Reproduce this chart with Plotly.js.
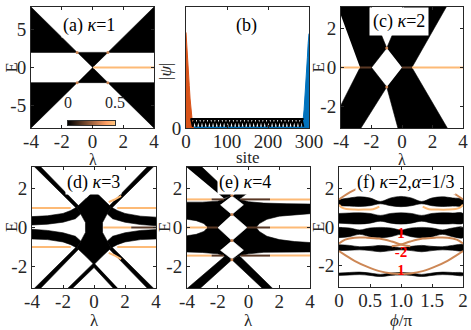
<!DOCTYPE html>
<html><head><meta charset="utf-8">
<script src="https://cdn.plot.ly/plotly-3.0.1.min.js"></script>
<style>html,body{margin:0;padding:0;background:#fff}#g{width:471px;height:330px}</style>
</head><body><div id="g"></div>
<script>
// ---------- (a) kappa=1 ----------
const aLam = [-4.3,-1,-4.3,null,4.3,1,4.3,null,-4.3,-1,-4.3,null,4.3,1,4.3,null,-1,1,0,null,-1,1,0];
const aE   = [2,2,8.6,null,2,2,8.6,null,-2,-2,-8.6,null,-2,-2,-8.6,null,2,2,0,null,-2,-2,0];
const aEdgeLam = [0.05,4.2], aEdgeE = [0,0];
const aDotLam = [-1,1,-1,1], aDotE = [2,2,-2,-2];
const cbVals = [0,0.5];
// ---------- (b) wavefunctions ----------
const siteRed = [0,2,4,6,8,10,12,14,16,18];
const psiRed  = [0.79,0.70,0.58,0.47,0.35,0.24,0.15,0.08,0.03,0];
const siteBlue = [282,284,286,288,290,292,294,296,298,300];
const psiBlue  = [0,0.03,0.08,0.15,0.24,0.35,0.47,0.58,0.70,0.78];
const siteBase = [0,282], psiBase = [0.004,0.004];
const siteBlack = [12,16.5,21,25.5,30,34.5,39,43.5,48,52.5,57,61.5,66,70.5,75,79.5,84,88.5,93,97.5,102,106.5,111,115.5,120,124.5,129,133.5,138,142.5,147,151.5,156,160.5,165,169.5,174,178.5,183,187.5,192,196.5,201,205.5,210,214.5,219,223.5,228,232.5,237,241.5,246,250.5,255,259.5,264,268.5,273,277.5,282,286.5];
const psiBlack  = [0.08,0.01,0.08,0.01,0.08,0.01,0.08,0.01,0.08,0.01,0.08,0.01,0.08,0.01,0.08,0.01,0.08,0.01,0.08,0.01,0.08,0.01,0.08,0.01,0.08,0.01,0.08,0.01,0.08,0.01,0.08,0.01,0.08,0.01,0.08,0.01,0.08,0.01,0.08,0.01,0.08,0.01,0.08,0.01,0.08,0.01,0.08,0.01,0.08,0.01,0.08,0.01,0.08,0.01,0.08,0.01,0.08,0.01,0.08,0.01,0.08,0.01];
const siteTop = [12,287], psiTop = [0.075,0.075];
// ---------- (c) kappa=2 ----------
const cLam = [-2.75,-2,-1,-2.2,-4.3,null, 0,0.65,3.05,0.25,-1,null, -2.75,-4.3,-4.3,-2.85,-1,-2,null, 0,0.65,3.12,-0.2,-1];
const cE   = [0,0,1,3.3,3.3,null, 0,0,3.3,3.3,1,null, 0,-2.38,-3.3,-3.3,-1,0,null, 0,0,-3.3,-3.3,-1];
const cLightLam = [-4.2,-2.75,null,0.65,4.2], cLightE = [0,0,null,0,0];
const cDarkLam = [-2.75,-2,null,0,0.65], cDarkE = [0,0,null,0,0];
const cDotLam = [-1,-1], cDotE = [1,-1];
// ---------- (d) kappa=3 ----------
const dCenterLam = [0,0.5,1.1,0.85,0.55,0.55,0.85,1.1,0.5,0,-0.5,-1.1,-0.85,-0.55,-0.55,-0.85,-1.1,-0.5];
const dCenterE   = [1.9,1.5,1.05,0.7,0.25,-0.25,-0.7,-1.05,-1.5,-1.9,-1.5,-1.05,-0.7,-0.25,0.25,0.7,1.05,1.5];
const dBandLam = [-4.2,-3,-2,-1.5,-1.1,-0.85,-1.2,-2,-3,-4.2,null, 4.2,3,2,1.5,1.1,0.85,1.2,2,3,4.2,null, -4.2,-3,-2,-1.5,-1.1,-0.85,-1.2,-2,-3,-4.2,null, 4.2,3,2,1.5,1.1,0.85,1.2,2,3,4.2];
const dBandE   = [0.55,0.6,0.72,0.87,1.05,0.7,0.45,0.27,0.17,0.12,null, 0.52,0.58,0.72,0.87,1.05,0.7,0.45,0.27,0.15,0.08,null, -0.58,-0.62,-0.74,-0.88,-1.05,-0.7,-0.45,-0.27,-0.15,-0.08,null, -0.58,-0.62,-0.74,-0.88,-1.05,-0.7,-0.45,-0.27,-0.15,-0.1];
const dLineLam = [-1.15,-3.95,-3.55,-1.0,null, 1.15,3.95,3.55,1.0,null, -1.15,-3.95,-3.55,-1.0,null, 1.15,3.95,3.55,1.0,null, 0,-1.8,-1.5,0,1.35,1.65];
const dLineE   = [1.0,3.2,3.2,1.12,null, 1.0,3.2,3.2,1.12,null, -1.0,-3.2,-3.2,-1.12,null, -1.0,-3.2,-3.2,-1.12,null, -1.8,-3.2,-3.2,-2.05,-3.2,-3.2];
const dLightLam = [-4.2,-1.5,null,1.5,4.2,null,-4.2,-1.5,null,1.5,4.2,null,0.6,2.4,null,0.95,1.3,1.75,null,0.95,1.3,1.75];
const dLightE   = [1,1,null,1,1,null,-1,-1,null,-1,-1,null,0,0,null,1.3,1.42,1.62,null,-1.3,-1.42,-1.62];
const dDarkLam = [2.4,4.2], dDarkE = [0,0];
// ---------- (e) kappa=4 ----------
const eLineLam = [-4.35,-3.3,-1.08,-1.6,null, -1.08,-0.3,0.45,0.0,-0.6,null, -1.08,1.15,1.8,-0.6,null, -1.08,-3.4,-4.25,-1.5];
const eLineE   = [3.3,3.3,1.65,1.5,null, 1.6,2.0,2.18,1.8,1.45,null, -1.65,-3.3,-3.3,-1.45,null, -1.65,-3.3,-3.3,-1.45];
const eBandLam = [-4.2,-3,-2,-1.5,-1.08,-0.6,0,1,2.5,4.2,4.2,3,2,1.2,0.7,0.5,-2.65,-2.9,-3.4,-4.2,null, -4.2,-3.4,-2.9,-2.65,0.5,0.7,1.2,2,3,4.2,4.2,2.5,1,0,-0.6,-1.08,-1.5,-2,-3,-4.2];
const eBandE   = [1.3,1.3,1.35,1.48,1.65,1.45,1.32,1.25,1.22,1.2,0.72,0.66,0.58,0.42,0.2,0,0,0.2,0.35,0.45,null, -0.45,-0.35,-0.2,0,0,-0.2,-0.45,-0.62,-0.72,-0.78,-1.25,-1.25,-1.27,-1.35,-1.45,-1.65,-1.48,-1.35,-1.28,-1.25];
const eHoleLam = [-1.08,-0.33,-1.08,-1.83,null, -1.08,-0.1,-1.08,-2.0,null, -1.08,-0.33,-1.08,-1.83];
const eHoleE   = [1.62,1.16,0.67,1.16,null, 0.67,0,-0.67,0,null, -0.67,-1.16,-1.62,-1.16];
const eLightLam = [-4.2,-2.4,null,1.4,4.2,null,-4.2,-2.4,null,1.4,4.2,null,-4.2,-2.7,null,1.4,4.2];
const eLightE   = [1.44,1.44,null,1.44,1.44,null,-1.44,-1.44,null,-1.44,-1.44,null,0,0,null,0,0];
const eDarkLam = [-2.4,-1.6,null,-0.5,1.4,null,-2.4,-1.6,null,-0.5,1.4,null,-2.7,-2.0,null,-0.1,1.4];
const eDarkE   = [1.44,1.44,null,1.44,1.44,null,-1.44,-1.44,null,-1.44,-1.44,null,0,0,null,0,0];
const eDotLam = [-1.08,-1.08,-1.08,-1.08], eDotE = [1.65,0.67,-0.67,-1.65];
// ---------- (f) kappa=2, alpha=1/3 ----------
const phi = [0,0.1667,0.3333,0.5,0.6667,0.8333,1,1.1667,1.3333,1.5,1.6667,1.8333,2];
const b1Top = [1.42,1.50,1.56,1.50,1.32,1.50,1.58,1.50,1.32,1.50,1.56,1.50,1.42];
const b1Bot = [1.10,1.08,1.06,1.10,1.20,1.10,1.05,1.10,1.20,1.10,1.06,1.08,1.10];
const b2Top = [0.70,0.72,0.73,0.70,0.60,0.70,0.73,0.70,0.60,0.70,0.73,0.72,0.70];
const b2Bot = [0.20,0.17,0.15,0.20,0.30,0.20,0.15,0.20,0.30,0.20,0.15,0.17,0.20];
const b3Top = [-0.02,-0.05,-0.15,-0.05,-0.02,-0.05,-0.15,-0.05,-0.02,-0.05,-0.15,-0.05,-0.02];
const b3Bot = [-0.55,-0.50,-0.38,-0.50,-0.55,-0.50,-0.38,-0.50,-0.55,-0.50,-0.38,-0.50,-0.55];
const b4Top = [-0.92,-0.95,-1.02,-1.00,-0.95,-1.00,-1.08,-1.00,-0.95,-1.00,-1.02,-0.95,-0.92];
const b4Bot = [-1.22,-1.20,-1.18,-1.22,-1.28,-1.22,-1.18,-1.22,-1.28,-1.22,-1.18,-1.20,-1.22];
const b5Top = [-2.38,-2.35,-2.33,-2.38,-2.45,-2.38,-2.35,-2.38,-2.45,-2.38,-2.33,-2.35,-2.38];
const b5Bot = [-2.50,-2.48,-2.46,-2.50,-2.56,-2.50,-2.48,-2.50,-2.56,-2.50,-2.46,-2.48,-2.50];
const o1Phi = [0,0.08,0.18,0.3,0.42], o1E = [1.42,1.6,1.8,2.0,2.18];
const o2Phi = [0,0.05,0.12,0.25,0.4,0.55,0.65], o2E = [1.15,1.0,0.93,0.9,0.9,0.92,1.05];
const o3Phi = [0,0.1,0.25,0.45,0.65,0.85,1.0,1.15], o3E = [-0.85,-0.65,-0.55,-0.55,-0.6,-0.75,-0.9,-1.0];
const o4Phi = [0,0.1,0.25,0.45,0.65,0.85,1.0], o4E = [-1.25,-1.45,-1.75,-2.05,-2.28,-2.4,-2.43];
const chernLabels = ['1','-2','1'], chernE = [-0.4,-1.37,-2.3];

const W = 471, H = 330;
const FONT = '"Liberation Serif", "Times New Roman", "DejaVu Serif", serif';
const INK = '#262626';
const LIGHT = 'rgb(253,186,118)', DARK = 'rgb(90,56,36)', TAN = 'rgb(205,135,85)';
const BL = 'black';
function px(a,b){return [a/W,b/W];}
function py(t,b){return [1-b/H,1-t/H];}
function poly(n,x,y,color,shape){return {type:'scatter',mode:'lines',x:x,y:y,xaxis:'x'+n,yaxis:'y'+n,fill:'toself',fillcolor:color,line:{color:color,width:0.6,shape:shape||'linear'},hoverinfo:'skip'};}
function line(n,x,y,color,w,shape){return {type:'scatter',mode:'lines',x:x,y:y,xaxis:'x'+n,yaxis:'y'+n,line:{color:color,width:w,shape:shape||'linear'},hoverinfo:'skip'};}
function dots(n,x,y,color,s){return {type:'scatter',mode:'markers',x:x,y:y,xaxis:'x'+n,yaxis:'y'+n,marker:{color:color,size:s},hoverinfo:'skip'};}
function mirror(arr,c){return arr.map(v=>c-v);}
function band(top,bot){return {x:phi.concat(phi.slice().reverse()),y:top.concat(bot.slice().reverse())};}

const traces = [];
// (a)
traces.push(poly(1,aLam,aE,BL));
traces.push(line(1,aEdgeLam,aEdgeE,LIGHT,2));
traces.push(dots(1,aDotLam,aDotE,TAN,3));
traces.push({type:'heatmap',z:[cbVals],x:cbVals,y:[0],xaxis:'x7',yaxis:'y7',zsmooth:'best',zmin:0,zmax:0.5,showscale:false,hoverinfo:'skip',
  colorscale:[[0,'rgb(0,0,0)'],[0.8,'rgb(255,159,101)'],[1,'rgb(255,199,127)']]});
// (b)
traces.push(line(2,siteBase,psiBase,'#0072BD',2));
traces.push({type:'scatter',mode:'lines',x:siteRed,y:psiRed,xaxis:'x2',yaxis:'y2',fill:'tozeroy',fillcolor:'#D95319',line:{color:'#D95319',width:1},hoverinfo:'skip'});
traces.push({type:'scatter',mode:'lines',x:siteBlue,y:psiBlue,xaxis:'x2',yaxis:'y2',fill:'tozeroy',fillcolor:'#0072BD',line:{color:'#0072BD',width:1},hoverinfo:'skip'});
traces.push(line(2,siteBlack,psiBlack,BL,1.8));
traces.push(line(2,siteTop,psiTop,BL,2));
// (c)
traces.push(poly(3,cLam,cE,BL));
traces.push(line(3,cLightLam,cLightE,LIGHT,2));
traces.push(line(3,cDarkLam,cDarkE,DARK,2));
traces.push(dots(3,cDotLam,cDotE,TAN,3));
// (d)
traces.push(poly(4,dCenterLam,dCenterE,BL));
traces.push(poly(4,dBandLam,dBandE,BL));
traces.push(poly(4,dLineLam,dLineE,BL));
traces.push(line(4,dLightLam,dLightE,LIGHT,2));
traces.push(line(4,dDarkLam,dDarkE,DARK,2));
// (e)
traces.push(poly(5,eLineLam,eLineE,BL));
traces.push(poly(5,eBandLam,eBandE,BL));
traces.push(poly(5,eHoleLam,eHoleE,'white'));
traces.push(line(5,eLightLam,eLightE,LIGHT,2));
traces.push(line(5,eDarkLam,eDarkE,DARK,2));
traces.push(dots(5,eDotLam,eDotE,TAN,3));
// (f)
[[b1Top,b1Bot],[b2Top,b2Bot],[b3Top,b3Bot],[b4Top,b4Bot],[b5Top,b5Bot]].forEach(p=>{const b=band(p[0],p[1]);traces.push(poly(6,b.x,b.y,BL,'spline'));});
traces.push(line(6,o1Phi,o1E,TAN,2,'spline'));
traces.push(line(6,mirror(o1Phi,2),o1E,TAN,2,'spline'));
traces.push(line(6,o2Phi,o2E,LIGHT,2,'spline'));
traces.push(line(6,mirror(o2Phi,2),o2E,LIGHT,2,'spline'));
traces.push(line(6,o3Phi,o3E,TAN,2,'spline'));
traces.push(line(6,mirror(o3Phi,2),o3E,TAN,2,'spline'));
traces.push(line(6,o4Phi,o4E,TAN,2,'spline'));
traces.push(line(6,mirror(o4Phi,2),o4E,TAN,2,'spline'));
traces.push({type:'scatter',mode:'text',x:[1,1,1],y:chernE,text:chernLabels,xaxis:'x6',yaxis:'y6',
  textfont:{family:FONT,size:15,color:'#ff0000',weight:'bold'},hoverinfo:'skip'});

function axis(dom,range,vals,text,anchor,extra){
  return Object.assign({domain:dom,range:range,tickvals:vals,ticktext:text,ticks:'inside',ticklen:3,tickwidth:1,tickcolor:INK,
    showline:true,linecolor:INK,linewidth:1,mirror:'allticks',showgrid:false,zeroline:false,anchor:anchor,
    tickfont:{family:FONT,size:19,color:INK}},extra||{});
}
const XS = {ticklabelstandoff:-4};
const lamVals=[-4,-2,0,2,4], lamText=['-4','-2','0','2','4'];
const eVals=[-2,0,2], eText=['-2','0','2'];
const labelAnn = [
    {text:'(a) <i>κ</i>=1',x:89,y:25.5},
    {text:'(b)',x:246,y:26},
    {text:'(c) <i>κ</i>=2',x:399,y:22,borderpad:3},
    {text:'(d) <i>κ</i>=3',x:93,y:182},
    {text:'(e) <i>κ</i>=4',x:245,y:182},
    {text:'(f) <i>κ</i>=2,<i>α</i>=1/3',x:405,y:182}
  ].map(a=>Object.assign({xref:'paper',yref:'paper',showarrow:false,xanchor:'center',yanchor:'middle',bgcolor:'white',borderpad:1,
    font:{family:FONT,size:18,color:'black'}},a,{x:a.x/W,y:1-a.y/H}));
const titleAnn = [
    {text:'λ',x:92.5,y:159.5,size:16},{text:'site',x:247.5,y:157},{text:'λ',x:402,y:159.5,size:16},
    {text:'λ',x:94,y:320},{text:'λ',x:248.5,y:320},{text:'<i>ϕ</i>/π',x:401,y:320},
    {text:'E',x:11,y:67.5,textangle:-90},{text:'|<i>ψ</i>|',x:166,y:72,textangle:-90},{text:'E',x:318,y:67.5,textangle:-90},
    {text:'E',x:11,y:227,textangle:-90},{text:'E',x:164,y:227,textangle:-90},{text:'E',x:318,y:227,textangle:-90}
  ].map(a=>Object.assign({xref:'paper',yref:'paper',showarrow:false,xanchor:'center',yanchor:'middle',borderpad:0,
    font:{family:FONT,size:a.size||17,color:INK}},a,{x:a.x/W,y:1-a.y/H,size:undefined}));
titleAnn.forEach(a=>{delete a.size;});
const layout = {
  width:W,height:H,margin:{l:0,r:0,t:0,b:0},showlegend:false,paper_bgcolor:'white',plot_bgcolor:'white',
  xaxis: axis(px(31,154),[-4,4],lamVals,lamText,'y',XS),
  yaxis: axis(py(7,128),[-8,8],[-5,0,5],['-5','0','5'],'x'),
  xaxis2:axis(px(186,309),[0,300],[0,100,200,300],['0','100','200','300'],'y2',XS),
  yaxis2:axis(py(7,128),[0,1],[0,1],['0','1'],'x2'),
  xaxis3:axis(px(341,463),[-4,4],lamVals,lamText,'y3',XS),
  yaxis3:axis(py(7,128),[-3.1,3.1],eVals,eText,'x3'),
  xaxis4:axis(px(32,156),[-4,4],lamVals,lamText,'y4',XS),
  yaxis4:axis(py(167,288),[-3.1,3.1],eVals,eText,'x4'),
  xaxis5:axis(px(187,310),[-4,4],lamVals,lamText,'y5',XS),
  yaxis5:axis(py(167,288),[-3.1,3.1],eVals,eText,'x5'),
  xaxis6:axis(px(339,463),[0,2],[0,0.5,1,1.5,2],['0','0.5','1.0','1.5','2'],'y6',XS),
  yaxis6:axis(py(167,287),[-3.1,3.1],eVals,eText,'x6'),
  xaxis7:{domain:px(68,115),range:[0,0.5],anchor:'y7',side:'top',tickvals:[0,0.5],ticktext:['0','0.5'],ticks:'',
    showline:true,linecolor:'black',linewidth:0.8,mirror:true,showgrid:false,zeroline:false,ticklabelstandoff:6,
    tickfont:{family:FONT,size:16,color:INK}},
  yaxis7:{domain:py(121,125),range:[-0.5,0.5],anchor:'x7',showticklabels:false,ticks:'',showline:true,linecolor:'black',linewidth:0.8,mirror:true,showgrid:false,zeroline:false},
  annotations: labelAnn.concat(titleAnn)
};
Plotly.newPlot('g',traces,layout,{staticPlot:true,displayModeBar:false});
</script></body></html>
